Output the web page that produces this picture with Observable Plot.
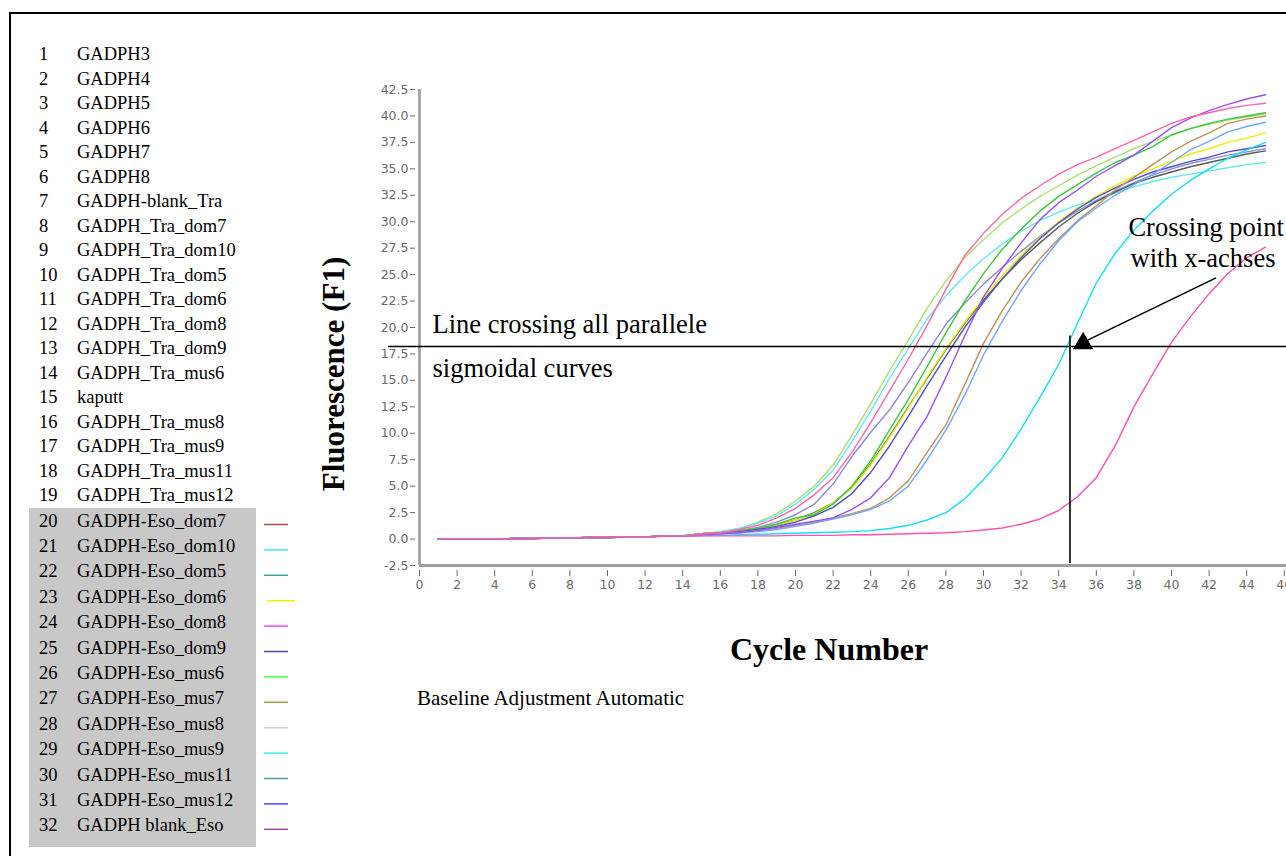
<!DOCTYPE html>
<html><head><meta charset="utf-8">
<script src="https://cdn.jsdelivr.net/npm/d3@7"></script>
<script src="https://cdn.jsdelivr.net/npm/@observablehq/plot@0.6"></script>
<style>
html,body{margin:0;padding:0;background:#fff;overflow:hidden}
#chart{position:relative;width:1286px;height:856px}
</style></head><body><div id="chart"></div>
<script>
// ---- data ----
const cycles = [1,2,3,4,5,6,7,8,9,10,11,12,13,14,15,16,17,18,19,20,21,22,23,24,25,26,27,28,29,30,31,32,33,34,35,36,37,38,39,40,41,42,43,44,45];
const xTicks = [0,2,4,6,8,10,12,14,16,18,20,22,24,26,28,30,32,34,36,38,40,42,44,46];
const yTicks = [-2.5,0,2.5,5,7.5,10,12.5,15,17.5,20,22.5,25,27.5,30,32.5,35,37.5,40,42.5];

const lightGreen = [0,0,0,0,0.05,0.05,0.1,0.1,0.15,0.15,0.2,0.2,0.3,0.35, 0.5,0.7,1.0,1.6,2.4,3.6,5.0,7.0,9.8,12.8, 15.9,18.8,21.8,24.4,26.6,28.3,29.9,31.2,32.4,33.4, 34.4,35.3,36.1,36.9,37.6,38.2,38.8,39.2,39.6,39.9, 40.2];
const pinkEarly  = [0,0,0,0,0.05,0.05,0.1,0.1,0.15,0.15,0.2,0.2,0.3,0.3, 0.5,0.6,0.9,1.3,2.0,2.9,4.2,5.8,8.2,11.0, 14.0,17.0,20.2,23.6,26.8,28.9,30.7,32.2,33.4,34.5, 35.4,36.1,36.9,37.7,38.5,39.3,39.9,40.3,40.7,41.0, 41.2];
const cyanEarly  = [0,0,0,0,0.05,0.05,0.1,0.1,0.15,0.15,0.2,0.2,0.3,0.3, 0.5,0.7,1.0,1.5,2.2,3.3,4.7,6.5,9.2,12.1, 15.2,18.0,20.8,23.0,24.9,26.5,27.9,29.1,30.1,30.9, 31.6,32.0,32.7,33.3,33.8,34.2,34.5,34.8,35.1,35.4, 35.6];
const blueGray   = [0,0,0,0,0.05,0.05,0.1,0.1,0.15,0.15,0.2,0.2,0.3,0.3, 0.5,0.6,0.8,1.1,1.6,2.3,3.3,5.2,7.8,10.1, 12.2,14.8,17.6,20.3,22.3,24.1,25.7,27.2,28.6,29.9, 31.0,32.0,32.9,33.7,34.4,35.0,35.5,35.9,36.3,36.6, 36.9];
const green      = [0,0,0,0,0.05,0.05,0.1,0.1,0.15,0.15,0.2,0.2,0.3,0.3, 0.5,0.6,0.8,1.0,1.4,2.0,2.3,3.3,5.0,7.4, 10.3,13.2,16.3,19.5,22.5,25.1,27.4,29.3,31.0,32.4, 33.5,34.6,35.6,36.3,37.1,38.2,38.8,39.3,39.7,40.0, 40.3];
const yellow     = [0,0,0,0,0.05,0.05,0.1,0.1,0.15,0.15,0.2,0.2,0.3,0.3, 0.5,0.6,0.8,1.0,1.3,1.8,2.4,3.4,4.8,7.0, 9.6,12.4,15.3,18.0,20.5,22.8,24.9,26.8,28.5,30.0, 31.3,32.4,33.4,34.3,35.0,35.7,36.4,36.9,37.5,37.9, 38.4];
const darkGray   = [0,0,0,0,0.05,0.05,0.1,0.1,0.15,0.15,0.2,0.2,0.3,0.3, 0.5,0.6,0.8,1.0,1.3,1.8,2.5,3.4,4.9,7.1, 9.7,12.5,15.2,17.9,20.4,22.6,24.6,26.4,28.0,29.5, 30.8,31.9,32.8,33.6,34.2,34.7,35.2,35.6,36.0,36.4, 36.7];
const purple     = [0,0,0,0,0.05,0.05,0.1,0.1,0.15,0.15,0.2,0.2,0.3,0.3, 0.4,0.5,0.6,0.8,1.1,1.4,1.7,2.0,2.8,3.9, 5.8,8.8,11.6,15.3,19.2,22.9,25.6,28.0,30.2,31.8, 33.0,34.3,35.3,36.3,37.6,38.9,39.8,40.5,41.1,41.6, 42.0];
const darkBlue   = [0,0,0,0,0.05,0.05,0.1,0.1,0.15,0.15,0.2,0.2,0.3,0.3, 0.4,0.5,0.7,0.9,1.2,1.6,2.2,3.0,4.3,6.3, 8.8,11.6,14.5,17.3,20.0,22.4,24.6,26.6,28.4,29.9, 31.2,32.3,33.2,34.0,34.7,35.2,35.7,36.1,36.6,36.9, 37.2];
const brown      = [0,0,0,0,0.05,0.05,0.1,0.1,0.15,0.15,0.2,0.2,0.3,0.3, 0.4,0.5,0.6,0.8,1.0,1.3,1.6,2.0,2.4,2.9, 3.9,5.5,8.2,10.8,14.6,18.5,21.6,24.3,26.5,28.4, 30.1,31.5,33.0,34.2,35.4,36.6,37.6,38.4,39.3,39.7, 40.0];
const lightBlue  = [0,0,0,0,0.05,0.05,0.1,0.1,0.15,0.15,0.2,0.2,0.3,0.3, 0.4,0.5,0.6,0.7,0.9,1.2,1.5,1.9,2.3,2.8, 3.6,5.0,7.5,10.3,13.6,17.4,20.6,23.5,26.0,28.2, 30.0,31.3,32.5,33.5,34.5,35.6,36.8,37.6,38.5,39.0, 39.4];
const cyanLate   = [0,0,0,0,0.05,0.05,0.1,0.1,0.15,0.15,0.2,0.2,0.25,0.25, 0.3,0.35,0.4,0.45,0.5,0.55,0.6,0.65,0.7,0.8, 1.0,1.3,1.8,2.5,3.8,5.6,7.7,10.4,13.4,16.5, 20.4,24.2,27.0,29.2,31.0,32.6,33.9,35.0,36.0,36.8, 37.5];
const pinkLate   = [0,0,0,0,0.05,0.05,0.1,0.1,0.15,0.15,0.2,0.2,0.25,0.25, 0.3,0.3,0.3,0.3,0.3,0.35,0.35,0.35,0.4,0.4, 0.45,0.5,0.55,0.6,0.7,0.85,1.05,1.4,1.9,2.7, 4.0,5.8,8.8,12.5,15.6,18.6,21.0,23.2,25.1,26.6, 27.6];

const seriesValues = [lightGreen, cyanEarly, blueGray, darkGray, yellow, green, darkBlue, brown, lightBlue, purple, pinkEarly, cyanLate, pinkLate];
const seriesColors = ["#a8e070", "#66e8f0", "#8c8cd8", "#506050", "#eeee00", "#3cc83c", "#5050c8", "#c09060", "#70a8ff", "#9a50ff", "#ff66aa", "#10e0f8", "#ff50b0"];

const legendNames = ["GADPH3","GADPH4","GADPH5","GADPH6","GADPH7","GADPH8","GADPH-blank_Tra","GADPH_Tra_dom7","GADPH_Tra_dom10","GADPH_Tra_dom5","GADPH_Tra_dom6","GADPH_Tra_dom8","GADPH_Tra_dom9","GADPH_Tra_mus6","kaputt","GADPH_Tra_mus8","GADPH_Tra_mus9","GADPH_Tra_mus11","GADPH_Tra_mus12","GADPH-Eso_dom7","GADPH-Eso_dom10","GADPH-Eso_dom5","GADPH-Eso_dom6","GADPH-Eso_dom8","GADPH-Eso_dom9","GADPH-Eso_mus6","GADPH-Eso_mus7","GADPH-Eso_mus8","GADPH-Eso_mus9","GADPH-Eso_mus11","GADPH-Eso_mus12","GADPH blank_Eso"];
const legendSwatches = ["#b04848","#40f0f0","#40a0a0","#f0f000","#ff40ff","#4848a8","#40ff40","#a0a040","#d0d0d0","#40f0f0","#40a0a0","#4848ff","#a048a0"];

const thresholdValue = 18.2;
const crossingCycle = 34.6;

// ---- chart ----
const serif = "'Liberation Serif','Times New Roman',serif";
const lineMarks = seriesValues.map((vals, i) =>
  Plot.line(cycles.map((c, j) => ({cycle: c, value: vals[j]})), {x: "cycle", y: "value", stroke: seriesColors[i], strokeWidth: 1.4})
);

const plot = Plot.plot({
  width: 1286, height: 856,
  marginLeft: 419, marginRight: 2.2, marginTop: 89, marginBottom: 291,
  x: {domain: [0, 46]},
  y: {domain: [-2.5, 42.5]},
  style: {fontFamily: "'DejaVu Sans', sans-serif", fontSize: "12px", background: "white", overflow: "visible"},
  marks: [
    Plot.axisY({ticks: yTicks, tickFormat: d => d.toFixed(1), tickSize: 5, tickPadding: 2, dx: -4, label: null, color: "#6a6a6a", fontSize: 12.5}),
    Plot.axisX({ticks: xTicks, tickFormat: d => String(d), tickSize: 6, tickPadding: 4, dy: 5, label: null, color: "#6a6a6a", fontSize: 12.5}),
    Plot.ruleX([0], {y1: -2.5, y2: 42.5, stroke: "#a8a8a8", strokeWidth: 3}),
    Plot.ruleY([-2.5], {x1: 0, x2: 46.3, stroke: "#a0a0a0", strokeWidth: 3}),
    ...lineMarks,
    Plot.ruleY([thresholdValue], {x1: -1.65, x2: 46.4, stroke: "black", strokeWidth: 1.6}),
    Plot.ruleX([crossingCycle], {y1: -2.3, y2: 19.2, stroke: "black", strokeWidth: 1.6}),
    Plot.line([{x: 42.34, y: 24.67}, {x: 35.32, y: 18.62}], {x: "x", y: "y", stroke: "black", strokeWidth: 1.6}),
    Plot.dot([{x: 35.3, y: 18.5}], {x: "x", y: "y", symbol: "triangle", r: 7.5, fill: "black", stroke: "none"}),
    Plot.text([
      {x: 0.69, y: 19.47, t: "Line crossing all parallele"},
      {x: 0.69, y: 15.31, t: "sigmoidal curves"},
      {x: 37.71, y: 28.64, t: "Crossing point"},
      {x: 37.82, y: 25.71, t: "with x-achses"}
    ], {x: "x", y: "y", text: "t", textAnchor: "start", lineAnchor: "bottom", fontFamily: serif, fontSize: 26.5, fill: "black"})
  ]
});

const svg = d3.select(plot);
const g = svg.append("g").attr("text-anchor", "start");

// frame
g.append("line").attr("x1", 10).attr("y1", 13).attr("x2", 1290).attr("y2", 13).attr("stroke", "black").attr("stroke-width", 2);
g.append("line").attr("x1", 10).attr("y1", 12).attr("x2", 10).attr("y2", 860).attr("stroke", "black").attr("stroke-width", 2);

// legend box
g.append("rect").attr("x", 29).attr("y", 508).attr("width", 227).attr("height", 339).attr("fill", "#c8c8c8");

legendNames.forEach((name, i) => {
  const base = i < 19 ? 60 + i * 24.5 : 526.5 + (i - 19) * 25.4;
  g.append("text").attr("x", 39).attr("y", base).attr("text-anchor", "start").attr("font-family", serif).attr("font-size", 18.5).attr("fill", "black").text(String(i + 1));
  g.append("text").attr("x", 77).attr("y", base).attr("text-anchor", "start").attr("font-family", serif).attr("font-size", 18.5).attr("fill", "black").text(name);
  if (i >= 19) {
    const k = i - 19;
    const x1 = k === 3 ? 267 : 264, x2 = k === 3 ? 295 : 288;
    g.append("line").attr("x1", x1).attr("x2", x2).attr("y1", base - 2).attr("y2", base - 2)
      .attr("stroke", legendSwatches[k]).attr("stroke-width", 1.5);
  }
});

// axis titles and caption
g.append("text").attr("transform", "translate(344,374) rotate(-90)").attr("text-anchor", "middle")
  .attr("font-family", serif).attr("font-weight", "bold").attr("font-size", 31).attr("fill", "black").text("Fluorescence (F1)");
g.append("text").attr("x", 829).attr("y", 660).attr("text-anchor", "middle")
  .attr("font-family", serif).attr("font-weight", "bold").attr("font-size", 32).attr("fill", "black").text("Cycle Number");
g.append("text").attr("x", 417).attr("y", 705).attr("text-anchor", "start")
  .attr("font-family", serif).attr("font-size", 21).attr("fill", "black").text("Baseline Adjustment Automatic");

document.getElementById("chart").appendChild(plot);
</script>
</body></html>
